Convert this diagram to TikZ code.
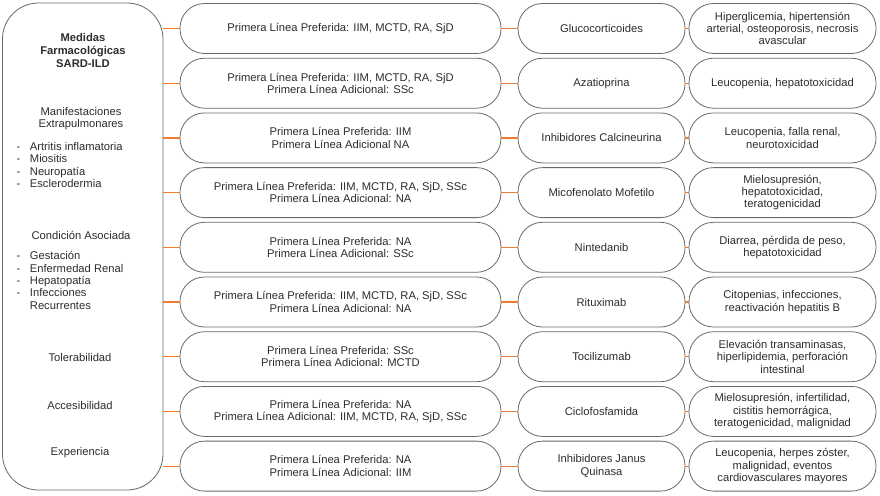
\documentclass[tikz,border=0pt]{standalone}
\usepackage{fontspec}
\setmainfont{Liberation Sans}
\definecolor{bordergray}{RGB}{105,105,105}
\definecolor{txtgray}{RGB}{45,45,45}
\definecolor{conorange}{RGB}{237,125,49}
\begin{document}
\begin{tikzpicture}[x=1pt,y=-1pt,
  every node/.style={text=txtgray,font=\fontsize{11.2}{12.4}\selectfont},
  pill/.style={draw=bordergray,line width=0.8pt,rectangle,rounded corners=24.5pt,
    minimum height=50pt,align=center,inner sep=0pt,fill=white},
  midbox/.style={pill,minimum width=321pt},
  drugbox/.style={pill,minimum width=167pt},
  effbox/.style={pill,minimum width=187pt},
  lefttxt/.style={align=center,inner sep=0pt},
  conn/.style={draw=conorange,line width=1.2pt}]
\useasboundingbox[fill=white] (0,0) rectangle (880,495);

% left panel
\node[draw=bordergray,line width=0.8pt,rectangle,rounded corners=36pt,
  minimum width=160.5pt,minimum height=487pt,inner sep=0pt] (L) at (82.75,246.5) {};
\node[lefttxt,font=\fontsize{11.2}{12.6}\selectfont\bfseries] (title) at (83,50.5) {Medidas\\Farmacológicas\\SARD-ILD};
\node[lefttxt] (manif) at (81,118.5) {Manifestaciones\\Extrapulmonares};
\node[inner sep=0pt,anchor=west] (list1) at (16.5,166.5) {\begin{tabular}{@{}l@{\hspace{9.5pt}}l@{}}
-&Artritis inflamatoria\\
-&Miositis\\
-&Neuropatía\\
-&Esclerodermia
\end{tabular}};
\node[lefttxt] (cond) at (81,235) {Condición Asociada};
\node[inner sep=0pt,anchor=west] (list2) at (16.5,282) {\begin{tabular}{@{}l@{\hspace{9.5pt}}l@{}}
-&Gestación\\
-&Enfermedad Renal\\
-&Hepatopatía\\
-&Infecciones\\
&Recurrentes
\end{tabular}};
\node[lefttxt] (tol) at (80,357) {Tolerabilidad};
\node[lefttxt] (acc) at (80,405) {Accesibilidad};
\node[lefttxt] (exp) at (80,453) {Experiencia};

% rows
\node[midbox] (M1) at (340.5,28.5) {Primera Línea Preferida: IIM, MCTD, RA, SjD};
\node[drugbox] (D1) at (601.5,28.5) {Glucocorticoides};
\node[effbox] (E1) at (782.5,28.5) {Hiperglicemia, hipertensión\\arterial, osteoporosis, necrosis\\avascular};

\node[midbox] (M2) at (340.5,83.2) {Primera Línea Preferida: IIM, MCTD, RA, SjD\\Primera Línea Adicional: SSc};
\node[drugbox] (D2) at (601.5,83.2) {Azatioprina};
\node[effbox] (E2) at (782.5,83.2) {Leucopenia, hepatotoxicidad};

\node[midbox] (M3) at (340.5,137.9) {Primera Línea Preferida: IIM\\Primera Línea Adicional NA};
\node[drugbox] (D3) at (601.5,137.9) {Inhibidores Calcineurina};
\node[effbox] (E3) at (782.5,137.9) {Leucopenia, falla renal,\\neurotoxicidad};

\node[midbox] (M4) at (340.5,192.6) {Primera Línea Preferida: IIM, MCTD, RA, SjD, SSc\\Primera Línea Adicional: NA};
\node[drugbox] (D4) at (601.5,192.6) {Micofenolato Mofetilo};
\node[effbox] (E4) at (782.5,192.6) {Mielosupresión,\\hepatotoxicidad,\\teratogenicidad};

\node[midbox] (M5) at (340.5,247.3) {Primera Línea Preferida: NA\\Primera Línea Adicional: SSc};
\node[drugbox] (D5) at (601.5,247.3) {Nintedanib};
\node[effbox] (E5) at (782.5,247.3) {Diarrea, pérdida de peso,\\hepatotoxicidad};

\node[midbox] (M6) at (340.5,302) {Primera Línea Preferida: IIM, MCTD, RA, SjD, SSc\\Primera Línea Adicional: NA};
\node[drugbox] (D6) at (601.5,302) {Rituximab};
\node[effbox] (E6) at (782.5,302) {Citopenias, infecciones,\\reactivación hepatitis B};

\node[midbox] (M7) at (340.5,356.7) {Primera Línea Preferida: SSc\\Primera Línea Adicional: MCTD};
\node[drugbox] (D7) at (601.5,356.7) {Tocilizumab};
\node[effbox] (E7) at (782.5,356.7) {Elevación transaminasas,\\hiperlipidemia, perforación\\intestinal};

\node[midbox] (M8) at (340.5,411.4) {Primera Línea Preferida: NA\\Primera Línea Adicional: IIM, MCTD, RA, SjD, SSc};
\node[drugbox] (D8) at (601.5,411.4) {Ciclofosfamida};
\node[effbox] (E8) at (782.5,411.4) {Mielosupresión, infertilidad,\\cistitis hemorrágica,\\teratogenicidad, malignidad};

\node[midbox] (M9) at (340.5,466.1) {Primera Línea Preferida: NA\\Primera Línea Adicional: IIM};
\node[drugbox] (D9) at (601.5,466.1) {Inhibidores Janus\\Quinasa};
\node[effbox] (E9) at (782.5,466.1) {Leucopenia, herpes zóster,\\malignidad, eventos\\cardiovasculares mayores};

% connectors
\foreach \i in {1,...,9}{
  \draw[conn] (L.east |- M\i.west) -- (M\i.west);
  \draw[conn] (M\i.east) -- (D\i.west);
  \draw[conn] (D\i.east) -- (E\i.west);
}
\end{tikzpicture}
\end{document}
